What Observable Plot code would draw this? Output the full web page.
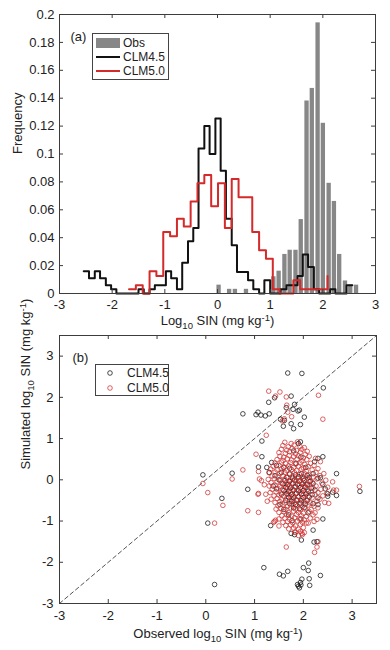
<!DOCTYPE html>
<html>
<head>
<meta charset="utf-8">
<script src="https://cdn.jsdelivr.net/npm/d3@7"></script>
<script src="https://cdn.jsdelivr.net/npm/@observablehq/plot@0.6"></script>
<style>
  html, body { margin: 0; padding: 0; background: #fff; }
  #wrap { position: relative; width: 390px; height: 650px; font-family: 'Liberation Sans', Arial, sans-serif; color: #222; }
  #wrap svg { display: block; }
  .leg { position: absolute; box-sizing: border-box; border: 1px solid #444; background: #fff; font-size: 12px; }
  .leg .t { position: absolute; line-height: 14px; white-space: nowrap; }
  .leg .sw { position: absolute; }
</style>
</head>
<body>
<div id="wrap"></div>
<script>
// ---------- Panel (a): histogram data ----------
const xTicks = [-3, -2, -1, 0, 1, 2, 3];
const freqTicks = [0, 0.02, 0.04, 0.06, 0.08, 0.1, 0.12, 0.14, 0.16, 0.18, 0.2];

const obsCenters = [0.03, 0.23, 0.34, 0.55, 1.07, 1.17, 1.28, 1.38, 1.49, 1.59, 1.70, 1.80, 1.91, 2.01, 2.12, 2.22, 2.32, 2.43, 2.53, 2.64];
const obsFreq    = [0.006, 0.003, 0.003, 0.003, 0.012, 0.016, 0.028, 0.031, 0.031, 0.053, 0.138, 0.147, 0.194, 0.122, 0.079, 0.066, 0.028, 0.009, 0.006, 0.006];

const clm45X = [-2.54, -2.44, -2.33, -2.23, -2.12, -2.02, -1.92, -1.81, -1.71, -1.60, -1.50,
  -1.40, -1.29, -1.19, -1.08, -0.98, -0.88, -0.77, -0.67, -0.56, -0.46,
  -0.36, -0.25, -0.15, -0.04, 0.06, 0.16, 0.27, 0.37, 0.48, 0.58,
  0.68, 0.79, 0.89, 1.00, 1.10, 1.20, 1.31, 1.41, 1.52, 1.62,
  1.72, 1.83, 1.93, 2.04, 2.14, 2.24, 2.35, 2.45, 2.56];
const clm45Freq = [0.016, 0.011, 0.016, 0.011, 0.006, 0.003, 0, 0, 0, 0, 0.003,
  0, 0.003, 0.006, 0.006, 0.016, 0.011, 0.003, 0.022, 0.0375, 0.047,
  0.104, 0.12, 0.1, 0.1255, 0.088, 0.0535, 0.0345, 0.0155, 0.0155, 0.0095,
  0.003, 0, 0.0095, 0, 0, 0.003, 0.006, 0.006, 0.0125, 0.028,
  0.019, 0.003, 0, 0, 0.003, 0, 0, 0.006, 0.006];

const clm50X = [-1.68, -1.55, -1.42, -1.29, -1.16, -1.03, -0.90, -0.77, -0.64, -0.51,
  -0.38, -0.25, -0.12, 0.01, 0.14, 0.27, 0.40, 0.53, 0.66, 0.79,
  0.92, 1.05, 1.18, 1.31, 1.44, 1.57, 1.70, 1.83, 1.96, 2.09];
const clm50Freq = [0.003, 0.006, 0, 0.016, 0.0125, 0.044, 0.041, 0.0535, 0.048, 0.066,
  0.079, 0.085, 0.0625, 0.079, 0.047, 0.082, 0.069, 0.069, 0.044, 0.031,
  0.025, 0.003, 0, 0, 0.0095, 0.003, 0.003, 0.003, 0.003, 0.0125];

// ---------- Panel (b): scatter data [observed, simulated] ----------
const scatterTicks = [-3, -2, -1, 0, 1, 2, 3];
const oneToOne = [-3, 3.5];

const clm45Pairs = [
  [1.68,2.59],[1.97,2.58],[2.41,2.23],[1.75,2.03],[1.41,1.99],[1.29,1.88],[1.82,1.83],
  [0.76,1.60],[1.03,1.58],[1.07,1.64],[1.13,1.57],[1.22,1.55],[1.30,1.60],
  [1.65,1.75],[1.79,1.71],[1.89,1.67],[1.92,1.69],[2.02,1.52],
  [1.53,1.47],[1.61,1.44],[1.59,1.30],[1.75,1.36],[1.80,1.24],[1.94,1.34],
  [1.15,0.94],[1.94,0.92],[1.15,0.56],[1.08,0.31],[-0.06,0.12],[0.54,0.16],
  [0.04,-1.05],[0.33,-0.45],[0.86,-0.23],[2.68,0.15],[3.16,-0.28],
  [0.18,-2.54],[1.19,-2.13],[1.51,-2.29],[1.59,-2.33],[1.68,-2.22],[2.00,-2.13],
  [2.11,-2.02],[2.10,-2.20],[2.12,-2.40],[2.35,-2.32],[1.88,-2.54],[1.94,-2.49],
  [1.97,-2.41],[2.13,-2.56],[1.92,-2.62],[1.95,-2.55],[1.90,-2.58],
  [1.33,-1.11],[1.77,-0.99],[1.82,-1.33],[1.96,-1.46],[2.20,-1.22],[2.22,-1.51],
  [2.28,-1.50],[2.40,-0.95],[1.75,-1.30],
  [1.25,0.30],[1.35,0.42],[1.45,0.35],[1.30,0.18],[1.42,0.10],[1.50,0.00],
  [1.38,-0.15],[1.45,-0.22],[1.55,-0.35],[1.60,0.30],[1.72,0.28],[1.55,0.18],
  [1.85,0.40],[1.95,0.55],[1.80,0.70],[1.90,0.88],[2.05,0.30],[2.20,0.15],
  [2.35,0.05],[2.23,0.44],[2.30,0.52],[2.40,0.56],[2.50,-0.40],[2.60,-0.30],
  [2.68,-0.38],[2.45,-0.22],[1.60,-0.72],[1.70,-0.85],[2.10,-0.80],[1.95,-0.95],
  [2.30,-0.60],[1.52,-0.60],
  [1.72,0.14],[1.84,0.12],[1.96,0.15],[2.08,0.11],
  [1.66,0.06],[1.78,0.04],[1.90,0.07],[2.00,0.03],[2.12,0.06],[2.30,0.04],
  [1.62,-0.02],[1.72,-0.04],[1.82,-0.01],[1.92,-0.03],[2.02,-0.02],[2.14,-0.04],
  [1.58,-0.10],[1.68,-0.12],[1.78,-0.09],[1.88,-0.11],[1.98,-0.10],[2.08,-0.12],[2.20,-0.09],[2.40,-0.11],
  [1.64,-0.18],[1.74,-0.20],[1.84,-0.17],[1.94,-0.19],[2.04,-0.18],[2.16,-0.20],
  [1.60,-0.26],[1.70,-0.28],[1.80,-0.25],[1.90,-0.27],[2.00,-0.26],[2.10,-0.28],[2.24,-0.25],
  [1.66,-0.34],[1.76,-0.36],[1.86,-0.33],[1.96,-0.35],[2.06,-0.34],[2.18,-0.36],[2.50,-0.34],
  [1.70,-0.42],[1.80,-0.44],[1.90,-0.41],[2.00,-0.43],[2.12,-0.42],[2.30,-0.44],
  [1.64,-0.50],[1.76,-0.52],[1.86,-0.49],[1.96,-0.51],[2.08,-0.50],
  [1.72,-0.58],[1.84,-0.60],[1.94,-0.57],[2.04,-0.59],[2.20,-0.58],
  [1.80,-0.68],[1.92,-0.70],[2.02,-0.67]
];

const clm50Pairs = [
  [1.29,2.15],[1.52,2.13],[1.43,2.03],[1.65,2.01],[2.31,2.05],[1.66,1.81],[1.68,1.64],
  [2.40,1.47],[1.61,1.48],[1.57,1.43],[1.76,1.53],[1.24,1.08],[1.03,0.62],
  [0.76,0.24],[0.54,0.02],[-0.06,-0.09],[0.04,-0.31],[0.35,-0.62],[0.18,-1.05],
  [0.86,-0.75],[1.08,-0.79],[1.07,-0.35],[1.08,0.20],[1.10,0.02],[1.08,-0.33],
  [1.14,-0.02],[1.20,-0.12],[1.23,-0.35],[1.26,-0.52],
  [1.65,-1.63],[2.23,-1.76],[2.28,-1.63],[2.30,-1.50],[3.15,-0.16],[2.68,-0.25],[2.52,-0.57],
  [1.41,-1.01],[1.39,-1.03],[1.43,-0.98],[1.50,-1.12],[1.82,-1.27],[1.97,-1.30],[2.06,-1.05],
  [1.62,0.91],[1.75,0.88],[1.88,0.92],
  [1.58,0.83],[1.69,0.80],[1.81,0.84],[1.93,0.81],[2.02,0.78],
  [1.55,0.74],[1.66,0.72],[1.77,0.76],[1.86,0.71],[1.97,0.74],[2.08,0.69],
  [1.50,0.66],[1.63,0.64],[1.72,0.68],[1.84,0.63],[1.94,0.67],[2.04,0.62],
  [1.52,0.57],[1.60,0.55],[1.71,0.59],[1.80,0.56],[1.90,0.58],[2.00,0.53],[2.12,0.57],
  [1.46,0.49],[1.58,0.47],[1.67,0.51],[1.76,0.48],[1.87,0.50],[1.97,0.46],[2.07,0.49],[2.25,0.52],
  [1.42,0.41],[1.55,0.43],[1.64,0.39],[1.74,0.42],[1.84,0.38],[1.93,0.41],[2.03,0.37],[2.15,0.40],[2.35,0.44],
  [1.38,0.33],[1.50,0.35],[1.60,0.31],[1.70,0.34],[1.80,0.30],[1.90,0.33],[2.00,0.29],[2.10,0.32],[2.22,0.35],
  [1.33,0.26],[1.46,0.24],[1.56,0.27],[1.66,0.23],[1.76,0.25],[1.86,0.22],[1.96,0.26],[2.06,0.21],[2.18,0.24],[2.30,0.27],
  [1.30,0.17],[1.42,0.19],[1.52,0.15],[1.62,0.18],[1.72,0.14],[1.82,0.17],[1.92,0.13],[2.02,0.16],[2.12,0.12],[2.26,0.18],[2.42,0.15],
  [1.36,0.09],[1.48,0.07],[1.58,0.10],[1.68,0.06],[1.78,0.09],[1.88,0.05],[1.98,0.08],[2.08,0.04],[2.20,0.07],[2.34,0.10],
  [1.28,0.01],[1.40,0.03],[1.52,-0.01],[1.62,0.02],[1.72,-0.02],[1.82,0.01],[1.92,-0.03],[2.02,0.00],[2.14,-0.02],[2.28,0.02],[2.46,-0.01],
  [1.34,-0.07],[1.46,-0.05],[1.56,-0.09],[1.66,-0.06],[1.76,-0.08],[1.86,-0.04],[1.96,-0.07],[2.06,-0.10],[2.18,-0.06],[2.38,-0.08],[2.60,-0.05],
  [1.30,-0.15],[1.42,-0.13],[1.52,-0.16],[1.62,-0.12],[1.72,-0.15],[1.82,-0.17],[1.92,-0.13],[2.02,-0.16],[2.12,-0.12],[2.26,-0.15],[2.50,-0.18],
  [1.36,-0.23],[1.48,-0.21],[1.58,-0.24],[1.68,-0.20],[1.78,-0.23],[1.88,-0.25],[1.98,-0.21],[2.08,-0.24],[2.20,-0.20],[2.36,-0.23],[2.62,-0.25],
  [1.32,-0.31],[1.44,-0.29],[1.54,-0.32],[1.64,-0.28],[1.74,-0.31],[1.84,-0.33],[1.94,-0.29],[2.04,-0.32],[2.16,-0.28],[2.30,-0.31],[2.48,-0.33],
  [1.40,-0.39],[1.50,-0.37],[1.60,-0.40],[1.70,-0.36],[1.80,-0.39],[1.90,-0.41],[2.00,-0.37],[2.10,-0.40],[2.24,-0.36],[2.40,-0.39],
  [1.34,-0.47],[1.46,-0.45],[1.56,-0.48],[1.66,-0.44],[1.76,-0.47],[1.86,-0.49],[1.96,-0.45],[2.06,-0.48],[2.18,-0.44],[2.34,-0.47],
  [1.42,-0.55],[1.52,-0.53],[1.62,-0.56],[1.72,-0.52],[1.82,-0.55],[1.92,-0.57],[2.02,-0.53],[2.14,-0.56],[2.28,-0.52],[2.44,-0.55],
  [1.48,-0.63],[1.58,-0.61],[1.68,-0.64],[1.78,-0.60],[1.88,-0.63],[1.98,-0.65],[2.10,-0.61],[2.22,-0.64],
  [1.44,-0.71],[1.54,-0.69],[1.64,-0.72],[1.74,-0.68],[1.84,-0.71],[1.94,-0.73],[2.04,-0.69],[2.16,-0.72],[2.30,-0.68],
  [1.50,-0.79],[1.60,-0.77],[1.70,-0.80],[1.80,-0.76],[1.90,-0.79],[2.00,-0.81],[2.12,-0.77],[2.24,-0.80],
  [1.56,-0.87],[1.66,-0.85],[1.76,-0.88],[1.86,-0.84],[1.96,-0.87],[2.06,-0.89],[2.20,-0.85],
  [1.50,-0.95],[1.62,-0.93],[1.72,-0.96],[1.82,-0.92],[1.92,-0.95],[2.02,-0.97],[2.14,-0.93],[2.28,-0.96],
  [1.58,-1.03],[1.68,-1.01],[1.78,-1.04],[1.88,-1.00],[1.98,-1.03],[2.10,-1.05],[2.22,-1.01],
  [1.64,-1.11],[1.74,-1.09],[1.84,-1.12],[1.94,-1.08],
  [1.70,-1.19],[1.80,-1.17],[1.90,-1.20],[2.00,-1.16],
  [1.84,-1.27],[1.94,-1.25],[2.02,-1.28],
  [1.90,-1.35],[1.98,-1.33]
];

// ---------- styling ----------
const FONT = "'Liberation Sans', Arial, Helvetica, sans-serif";
const AXIS = "#3c3c3c";
const OBS_GRAY = "#878787";
const RED = "#d42a2a";
const RED_DOT = "#cf3030";
const BLACK = "#111";
const TICK = 4;

function rich(svg, plain, parts) {
  d3.select(svg).selectAll("text")
    .filter(function () { return this.textContent === plain; })
    .each(function () {
      const t = d3.select(this);
      t.text(null);
      let shift = 0;
      for (const [s, kind] of parts) {
        const target = kind === "sub" ? 4 : kind === "sup" ? -4 : 0;
        const ts = t.append("tspan").attr("dy", target - shift).text(s);
        if (kind) ts.attr("font-size", 9.5);
        shift = target;
      }
    });
}

const wrap = document.getElementById("wrap");

// ---------- Panel (a) ----------
const A = { w: 390, h: 330, mt: 14, mb: 37, ml: 59, mr: 15 };
const AfW = A.w - A.ml - A.mr, AfH = A.h - A.mt - A.mb;
const obs = obsCenters.map((c, i) => ({ c, f: obsFreq[i] }));
const s45 = clm45X.map((x, i) => ({ x, y: clm45Freq[i] }));
const s50 = clm50X.map((x, i) => ({ x, y: clm50Freq[i] }));

const plotA = Plot.plot({
  width: A.w, height: A.h,
  marginTop: A.mt, marginBottom: A.mb, marginLeft: A.ml, marginRight: A.mr,
  style: { fontFamily: FONT, fontSize: "13px", color: "#222", background: "#fff", overflow: "visible" },
  x: { domain: [-3, 3], label: null },
  y: { domain: [0, 0.2], label: null },
  marks: [
    Plot.rectY(obs, { x1: d => d.c - 0.041, x2: d => d.c + 0.041, y: "f", fill: OBS_GRAY }),
    Plot.line(s45, { x: "x", y: "y", curve: "step-after", stroke: BLACK, strokeWidth: 2 }),
    Plot.line(s50, { x: "x", y: "y", curve: "step-after", stroke: RED, strokeWidth: 2 }),
    Plot.frame({ stroke: AXIS, strokeWidth: 1 }),
    Plot.tickX(xTicks, { x: d => d, insetTop: AfH - TICK, stroke: AXIS }),
    Plot.tickX(xTicks, { x: d => d, insetBottom: AfH - TICK, stroke: AXIS }),
    Plot.tickY(freqTicks, { y: d => d, insetRight: AfW - TICK, stroke: AXIS }),
    Plot.tickY(freqTicks, { y: d => d, insetLeft: AfW - TICK, stroke: AXIS }),
    Plot.axisX(xTicks, { tickSize: 0, tickPadding: 6, tickFormat: d => String(d), fontSize: 13, label: null }),
    Plot.axisY(freqTicks, { tickSize: 0, tickPadding: 5, tickFormat: d => String(d), fontSize: 13, label: null }),
    Plot.text(["Log10 SIN (mg kg-1)"], { text: d => d, frameAnchor: "bottom", dy: 31, fontSize: 13 }),
    Plot.text(["Frequency"], { text: d => d, frameAnchor: "left", dx: -42, rotate: -90, fontSize: 13 }),
    Plot.text(["(a)"], { text: d => d, frameAnchor: "top-left", dx: 11, dy: 17, textAnchor: "start", fontSize: 13 })
  ]
});
rich(plotA, "Log10 SIN (mg kg-1)", [["Log", 0], ["10", "sub"], [" SIN (mg kg", 0], ["-1", "sup"], [")", 0]]);
wrap.appendChild(plotA);

// ---------- Panel (b) ----------
const B = { w: 390, h: 320, mt: 5, mb: 47, ml: 59, mr: 14 };
const BfW = B.w - B.ml - B.mr, BfH = B.h - B.mt - B.mb;
const p45 = clm45Pairs.map(([x, y]) => ({ x, y }));
const p50 = clm50Pairs.map(([x, y]) => ({ x, y }));
const diag = oneToOne.map(v => ({ x: v, y: v }));

const plotB = Plot.plot({
  width: B.w, height: B.h,
  marginTop: B.mt, marginBottom: B.mb, marginLeft: B.ml, marginRight: B.mr,
  style: { fontFamily: FONT, fontSize: "13px", color: "#222", background: "#fff", overflow: "visible" },
  x: { domain: [-3, 3.5], label: null },
  y: { domain: [-3, 3.5], label: null },
  marks: [
    Plot.line(diag, { x: "x", y: "y", stroke: "#555", strokeWidth: 1, strokeDasharray: "4,3" }),
    Plot.dot(p45, { x: "x", y: "y", r: 2.3, stroke: BLACK, strokeWidth: 0.75, fill: "none" }),
    Plot.dot(p50, { x: "x", y: "y", r: 2.3, stroke: RED_DOT, strokeWidth: 0.75, fill: "none" }),
    Plot.frame({ stroke: AXIS, strokeWidth: 1 }),
    Plot.tickX(scatterTicks, { x: d => d, insetTop: BfH - TICK, stroke: AXIS }),
    Plot.tickX(scatterTicks, { x: d => d, insetBottom: BfH - TICK, stroke: AXIS }),
    Plot.tickY(scatterTicks, { y: d => d, insetRight: BfW - TICK, stroke: AXIS }),
    Plot.tickY(scatterTicks, { y: d => d, insetLeft: BfW - TICK, stroke: AXIS }),
    Plot.axisX(scatterTicks, { tickSize: 0, tickPadding: 7, tickFormat: d => String(d), fontSize: 13, label: null }),
    Plot.axisY(scatterTicks, { tickSize: 0, tickPadding: 6, tickFormat: d => String(d), fontSize: 13, label: null }),
    Plot.text(["Observed log10 SIN (mg kg-1)"], { text: d => d, frameAnchor: "bottom", dy: 34, fontSize: 13 }),
    Plot.text(["Simulated log10 SIN (mg kg-1)"], { text: d => d, frameAnchor: "left", dx: -34, rotate: -90, fontSize: 13 }),
    Plot.text(["(b)"], { text: d => d, frameAnchor: "top-left", dx: 13, dy: 17, textAnchor: "start", fontSize: 13 })
  ]
});
rich(plotB, "Observed log10 SIN (mg kg-1)", [["Observed log", 0], ["10", "sub"], [" SIN (mg kg", 0], ["-1", "sup"], [")", 0]]);
rich(plotB, "Simulated log10 SIN (mg kg-1)", [["Simulated log", 0], ["10", "sub"], [" SIN (mg kg", 0], ["-1", "sup"], [")", 0]]);
wrap.appendChild(plotB);

// ---------- Legends (HTML overlays) ----------
function legendA() {
  const box = document.createElement("div");
  box.className = "leg";
  Object.assign(box.style, { left: "92px", top: "33px", width: "77px", height: "47px" });
  const rows = [
    { label: "Obs", kind: "patch", color: OBS_GRAY },
    { label: "CLM4.5", kind: "line", color: BLACK },
    { label: "CLM5.0", kind: "line", color: RED }
  ];
  rows.forEach((r, i) => {
    const cy = 9 + i * 14;
    const sw = document.createElement("div");
    sw.className = "sw";
    if (r.kind === "patch") {
      Object.assign(sw.style, { left: "3px", top: (cy - 5) + "px", width: "24px", height: "10px", background: r.color });
    } else {
      Object.assign(sw.style, { left: "3px", top: (cy - 1) + "px", width: "24px", height: "2px", background: r.color });
    }
    box.appendChild(sw);
    const t = document.createElement("div");
    t.className = "t";
    t.textContent = r.label;
    Object.assign(t.style, { left: "30px", top: (cy - 7) + "px" });
    box.appendChild(t);
  });
  wrap.appendChild(box);
}
function legendB() {
  const box = document.createElement("div");
  box.className = "leg";
  Object.assign(box.style, { left: "95px", top: "364px", width: "74px", height: "32px" });
  const rows = [
    { label: "CLM4.5", color: BLACK },
    { label: "CLM5.0", color: RED_DOT }
  ];
  rows.forEach((r, i) => {
    const cy = 7.5 + i * 15;
    const s = document.createElementNS("http://www.w3.org/2000/svg", "svg");
    s.setAttribute("width", 8); s.setAttribute("height", 8);
    s.setAttribute("class", "sw");
    s.style.left = "10px"; s.style.top = (cy - 4) + "px";
    const c = document.createElementNS("http://www.w3.org/2000/svg", "circle");
    c.setAttribute("cx", 4); c.setAttribute("cy", 4); c.setAttribute("r", 2.3);
    c.setAttribute("fill", "none"); c.setAttribute("stroke", r.color); c.setAttribute("stroke-width", 0.75);
    s.appendChild(c);
    box.appendChild(s);
    const t = document.createElement("div");
    t.className = "t";
    t.textContent = r.label;
    Object.assign(t.style, { left: "31px", top: (cy - 7) + "px" });
    box.appendChild(t);
  });
  wrap.appendChild(box);
}
legendA();
legendB();
</script>
</body>
</html>
